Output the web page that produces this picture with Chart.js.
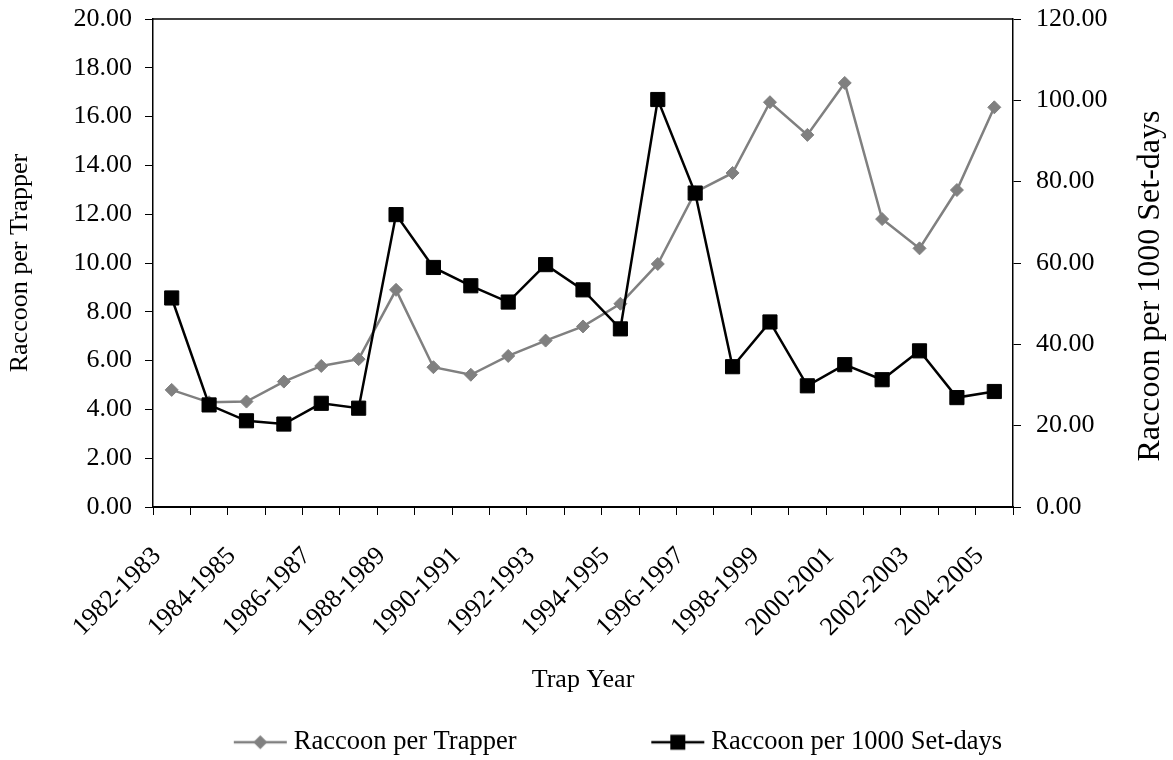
<!DOCTYPE html>
<html>
<head>
<meta charset="utf-8">
<script src="https://cdn.jsdelivr.net/npm/chart.js@4"></script>
<style>
  html, body { margin: 0; padding: 0; background: #fff; }
  #wrap { width: 1173px; height: 760px; }
</style>
</head>
<body>
<div id="wrap"><canvas id="chart" width="1173" height="760"></canvas></div>
<script>
const trapYears = [
    '1982-1983', '1983-1984', '1984-1985', '1985-1986', '1986-1987', '1987-1988',
    '1988-1989', '1989-1990', '1990-1991', '1991-1992', '1992-1993', '1993-1994',
    '1994-1995', '1995-1996', '1996-1997', '1997-1998', '1998-1999', '1999-2000',
    '2000-2001', '2001-2002', '2002-2003', '2003-2004', '2004-2005'
];
const perTrapper = [
    4.80, 4.29, 4.32, 5.14, 5.78, 6.06, 8.90, 5.73, 5.42, 6.19, 6.82, 7.40,
    8.33, 9.96, 12.90, 13.69, 16.59, 15.25, 17.38, 11.80, 10.60, 12.99, 16.38
];
const perSetDays = [
    51.4, 25.1, 21.2, 20.4, 25.5, 24.3, 71.9, 58.9, 54.4, 50.4, 59.6, 53.4,
    43.8, 100.2, 77.2, 34.5, 45.5, 29.8, 35.0, 31.3, 38.4, 26.9, 28.4
];
const leftTitle = 'Raccoon per Trapper';
const rightTitle = 'Raccoon per 1000 Set-days';
const xTitle = 'Trap Year';

const FONT = "'Liberation Serif', 'Times New Roman', serif";
const GRAY = '#808080';

// line + marker icon for the legend, sitting at the right end of a wide transparent box
function legendIcon(color, shape) {
    const c = document.createElement('canvas');
    c.width = 124;
    c.height = 24;
    const g = c.getContext('2d');
    g.strokeStyle = color;
    g.fillStyle = color;
    g.lineWidth = 2.5;
    g.beginPath();
    g.moveTo(70, 12);
    g.lineTo(123, 12);
    g.stroke();
    g.beginPath();
    if (shape === 'diamond') {
        g.moveTo(96.5, 5); g.lineTo(103.5, 12); g.lineTo(96.5, 19); g.lineTo(89.5, 12);
        g.closePath();
    } else {
        g.rect(89, 4.5, 15, 15);
    }
    g.fill();
    return c;
}
const icons = [legendIcon(GRAY, 'diamond'), legendIcon('#000', 'square')];

const frame = {
    id: 'frame',
    afterDraw(chart) {
        const { ctx, chartArea } = chart;
        ctx.save();
        ctx.strokeStyle = '#000';
        ctx.lineWidth = 1.5;
        ctx.beginPath();
        ctx.moveTo(chartArea.left, chartArea.top);
        ctx.lineTo(chartArea.right, chartArea.top);
        ctx.stroke();
        // right axis title reads bottom to top like the left one
        ctx.fillStyle = '#000';
        ctx.font = '32px ' + FONT;
        ctx.textAlign = 'center';
        ctx.textBaseline = 'middle';
        ctx.translate(1151, 286);
        ctx.rotate(-Math.PI / 2);
        ctx.fillText(rightTitle, 0, 0);
        ctx.restore();
    }
};

Chart.defaults.font.family = FONT;
Chart.defaults.font.size = 26;
Chart.defaults.color = '#000';

new Chart(document.getElementById('chart'), {
    type: 'line',
    data: {
        labels: trapYears,
        datasets: [{
            label: 'Raccoon per Trapper',
            data: perTrapper,
            yAxisID: 'y',
            borderColor: GRAY,
            backgroundColor: GRAY,
            borderWidth: 2.5,
            pointStyle: 'rectRot',
            pointRadius: 6.5,
            pointBorderWidth: 1,
            tension: 0,
            order: 1
        }, {
            label: 'Raccoon per 1000 Set-days',
            data: perSetDays,
            yAxisID: 'y2',
            borderColor: '#000',
            backgroundColor: '#000',
            borderWidth: 2.5,
            pointStyle: 'rect',
            pointRadius: 10,
            pointBorderWidth: 1,
            tension: 0,
            order: 0
        }]
    },
    options: {
        responsive: false,
        animation: false,
        layout: { padding: { top: 19, left: 0, right: 0, bottom: 0 } },
        plugins: {
            tooltip: { enabled: false },
            legend: {
                position: 'bottom',
                maxHeight: 103,
                labels: {
                    usePointStyle: true,
                    pointStyleWidth: 109.5,
                    padding: 72,
                    font: { size: 26.5 },
                    sort: (a, b) => a.datasetIndex - b.datasetIndex,
                    generateLabels: (chart) => Chart.defaults.plugins.legend.labels.generateLabels(chart)
                        .map(item => ({ ...item, pointStyle: icons[item.datasetIndex] }))
                }
            }
        },
        scales: {
            x: {
                offset: true,
                grid: { offset: true, drawOnChartArea: false, tickLength: 8, color: '#000', tickWidth: 1 },
                border: { color: '#000', width: 2 },
                ticks: {
                    autoSkip: false,
                    minRotation: 45,
                    maxRotation: 45,
                    padding: 26,
                    labelOffset: -14.5,
                    callback: (v, i) => i % 2 === 0 ? trapYears[i] : ''
                },
                title: { display: true, text: xTitle, font: { size: 26 }, padding: { top: 0, bottom: -38.6 } },
                afterFit: (s) => { s.height = 150; s.paddingLeft = 0; s.paddingRight = 0; }
            },
            y: {
                position: 'left',
                min: 0,
                max: 20,
                grid: { drawOnChartArea: false, tickLength: 8, color: '#000' },
                border: { color: '#000', width: 1.5 },
                ticks: { stepSize: 2, padding: 13, callback: (v) => v.toFixed(2) },
                title: { display: true, text: leftTitle, font: { size: 26 }, padding: { top: 4.4, bottom: 0 } },
                afterFit: (s) => { s.width = 153; s.paddingTop = 0; s.paddingBottom = 0; }
            },
            y2: {
                position: 'right',
                min: 0,
                max: 120,
                grid: { drawOnChartArea: false, tickLength: 8, color: '#000' },
                border: { color: '#000', width: 1.5 },
                ticks: { stepSize: 20, padding: 15, callback: (v) => v.toFixed(2) },
                afterFit: (s) => { s.width = 160; s.paddingTop = 0; s.paddingBottom = 0; }
            }
        }
    },
    plugins: [frame]
});
</script>
</body>
</html>
